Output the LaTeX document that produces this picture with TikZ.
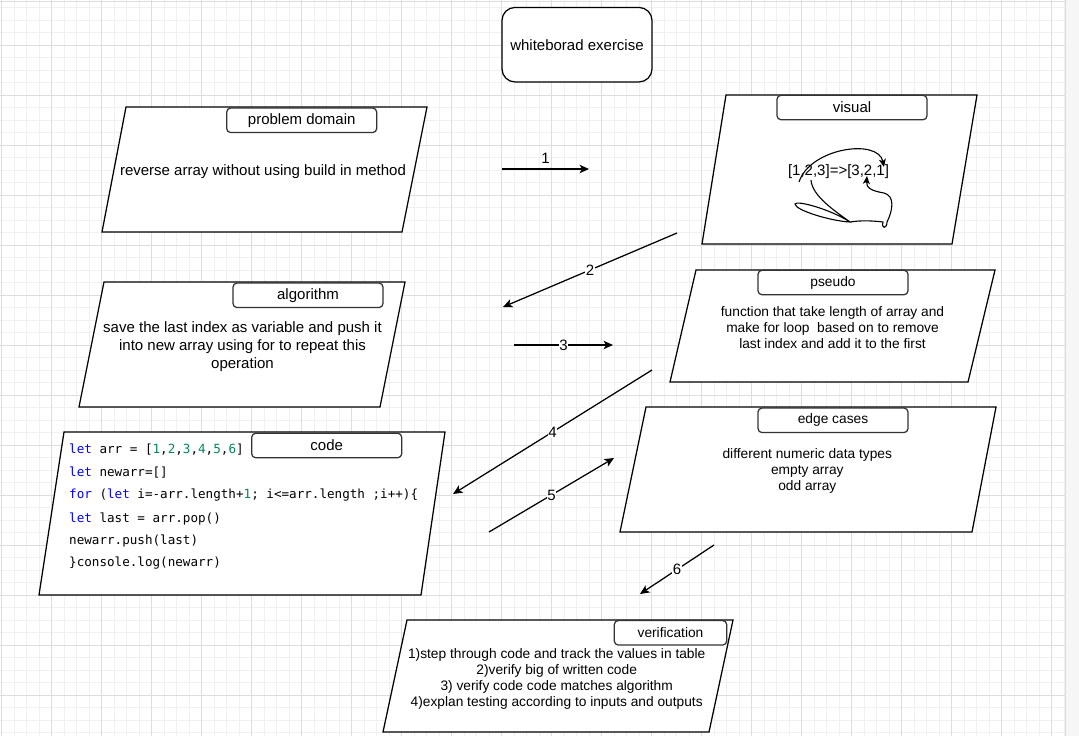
\documentclass[tikz,border=0pt]{standalone}
\usepackage{fontspec}
\setmainfont{Liberation Sans}
\setmonofont{DejaVu Sans Mono}
\usepackage{tikz}
\usetikzlibrary{arrows.meta}
\definecolor{gridminor}{RGB}{240,240,240}
\definecolor{gridmajor}{RGB}{221,221,221}
\definecolor{keyword}{RGB}{0,0,255}
\definecolor{numeral}{RGB}{9,134,88}
\definecolor{panel}{RGB}{246,246,246}

\begin{document}
\begin{tikzpicture}[x=1pt, y=-1pt, >={Stealth[length=9.5pt,width=8.5pt,inset=2.5pt]},
  minorline/.style={gridminor, line width=1pt},
  majorline/.style={gridmajor, line width=1pt},
  boxline/.style={draw=black, line width=1.25pt, fill=white},
  labelbox/.style={draw=black!80, line width=1.25pt, fill=white, rounded corners=4pt,
    minimum width=150pt, minimum height=24.5pt, inner sep=0pt},
  bigtext/.style={font=\fontsize{15}{18}\selectfont},
  smalltext/.style={font=\fontsize{13.75}{16}\selectfont},
  flow/.style={->, line width=1.25pt},
  numlabel/.style={bigtext, fill=white, inner sep=0.5pt},
  codeline/.style={anchor=west, inner sep=0pt, font=\fontsize{12.6}{14}\ttfamily}]
  \useasboundingbox (0,0) rectangle (1079,736);

  % canvas grid
  \fill[white] (0,0) rectangle (1065,736);
  \foreach \k in {0,...,85} \draw[minorline] ({1.7+12.5*\k},0) -- ({1.7+12.5*\k},736);
  \foreach \k in {1,...,59} \draw[minorline] (0,{-5+12.5*\k}) -- (1065,{-5+12.5*\k});
  \foreach \k in {0,...,21} \draw[majorline] ({1.7+50*\k},0) -- ({1.7+50*\k},736);
  \foreach \k in {1,...,14} \draw[majorline] (0,{-5+50*\k}) -- (1065,{-5+50*\k});
  \draw[majorline] (0,1) -- (1065,1);
  \fill[panel] (1065,0) rectangle (1079,736);
  \draw[gridmajor] (1065,0) -- (1065,736);

  % title
  \node[boxline, rounded corners=13pt, minimum width=150pt, minimum height=74.5pt, bigtext] (title) at (577,44.7) {whiteborad exercise};

  % problem domain
  \draw[boxline] (126,107) -- (427,107) -- (402,232) -- (102,232) -- cycle;
  \node[labelbox, bigtext] (pdlabel) at (301.7,120.3) {problem domain};
  \node[bigtext] (pdtext) at (263,171.5) {reverse array without using build in method};

  % visual
  \draw[boxline] (726,95) -- (977,95) -- (952,244) -- (702,244) -- cycle;
  \node[labelbox, bigtext] (vislabel) at (852,107.5) {visual};
  \node[bigtext] (vistext) at (838.5,172) {[1,2,3]=>[3,2,1]};
  \draw[->, line width=1.1pt, >={Stealth[length=8pt,width=7pt,inset=2pt]}]
    (799,182) .. controls (810,148) and (878,138) .. (884,167);
  \draw[->, line width=1.1pt, >={Stealth[length=8pt,width=7pt,inset=2pt]}]
    (811,180) .. controls (812,196) and (835,211) .. (850,222)
    .. controls (830,221) and (795,210) .. (795,204)
    .. controls (796,200) and (830,209) .. (850,222)
    .. controls (862,220) and (875,221) .. (883,222)
    .. controls (881,229) and (887,229) .. (887,222)
    .. controls (893,210) and (895,196) .. (884,193)
    .. controls (872,191) and (866,188) .. (867,176);

  % algorithm
  \draw[boxline] (104,282) -- (405,282) -- (380,407) -- (79,407) -- cycle;
  \node[labelbox, bigtext] (alglabel) at (308,295.3) {algorithm};
  \node[bigtext, align=center] (algtext) at (242.5,347) {save the last index as variable and push it\\into new array using for to repeat this\\operation};

  % pseudo
  \draw[boxline] (696,270) -- (995,270) -- (968,382) -- (670,382) -- cycle;
  \node[labelbox, smalltext] (pslabel) at (833,282.5) {pseudo};
  \node[smalltext, align=center] (pstext) at (832.5,327.3) {function that take length of array and\\make for loop~ based on to remove\\last index and add it to the first};

  % code
  \draw[boxline] (64,432) -- (445,432) -- (421,595) -- (39,595) -- cycle;
  \node[labelbox, bigtext] (codelabel) at (326.7,445.5) {code};
  \node[codeline] (c1) at (69,449.2) {\textcolor{keyword}{let} arr = [\textcolor{numeral}{1},\textcolor{numeral}{2},\textcolor{numeral}{3},\textcolor{numeral}{4},\textcolor{numeral}{5},\textcolor{numeral}{6}]};
  \node[codeline] (c2) at (69,472.5) {\textcolor{keyword}{let} newarr=[]};
  \node[codeline] (c3) at (69,495.5) {\textcolor{keyword}{for} (\textcolor{keyword}{let} i=-arr.length+\textcolor{numeral}{1}; i<=arr.length ;i++)\{};
  \node[codeline] (c4) at (69,518.5) {\textcolor{keyword}{let} last = arr.pop()};
  \node[codeline] (c5) at (69,541.2) {newarr.push(last)};
  \node[codeline] (c6) at (69,563.5) {\}console.log(newarr)};

  % edge cases
  \draw[boxline] (646,407) -- (996,407) -- (972,532) -- (620,532) -- cycle;
  \node[labelbox, smalltext] (edgelabel) at (833,420.3) {edge cases};
  \node[smalltext, align=center] (edgetext) at (807.3,471) {different numeric data types\\empty array\\odd array};

  % verification
  \draw[boxline] (407,620) -- (733,620) -- (709,732) -- (383,732) -- cycle;
  \node[labelbox, smalltext, minimum width=112.4pt] (verlabel) at (670.5,632.8) {verification};
  \node[smalltext, align=center] (vertext) at (556.7,678.6) {1)step through code and track the values in table\\2)verify big of written code\\3) verify code code matches algorithm\\4)explan testing according to inputs and outputs};

  % steps
  \coordinate (a1s) at (502,169);  \coordinate (a1e) at (589,169);
  \coordinate (a2s) at (677,233);  \coordinate (a2e) at (503,307);
  \coordinate (a3s) at (514,345);  \coordinate (a3e) at (613,345);
  \coordinate (a4s) at (652,370);  \coordinate (a4e) at (453,494);
  \coordinate (a5s) at (489,532);  \coordinate (a5e) at (614,458);
  \coordinate (a6s) at (714,545);  \coordinate (a6e) at (640,594);
  \draw[flow] (a1s) -- node[bigtext, above=1.5pt] (n1) {1} (a1e);
  \draw[flow] (a2s) -- node[numlabel] (n2) {2} (a2e);
  \draw[flow] (a3s) -- node[numlabel] (n3) {3} (a3e);
  \draw[flow] (a4s) -- node[numlabel] (n4) {4} (a4e);
  \draw[flow] (a5s) -- node[numlabel] (n5) {5} (a5e);
  \draw[flow] (a6s) -- node[numlabel] (n6) {6} (a6e);
\end{tikzpicture}
\end{document}
